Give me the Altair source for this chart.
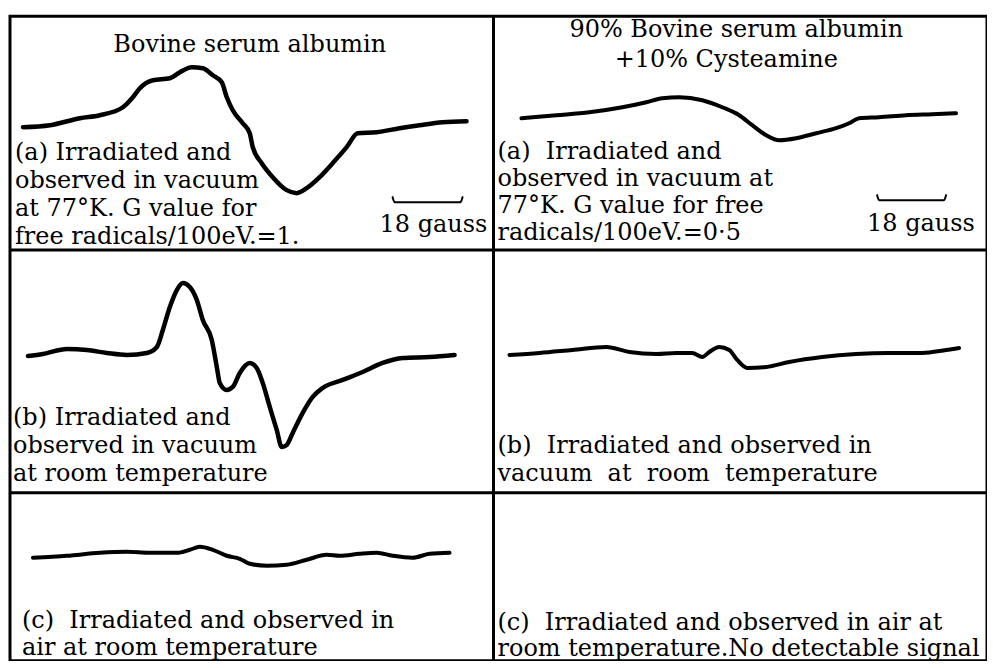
import altair as alt
import pandas as pd

FONT = "DejaVu Serif"
FS = 24

# ---- ESR traces (field position, signal position; picture units) ----
a1_field = [23, 50, 80, 100, 123, 133, 140, 153, 170, 180, 192, 203, 213, 222, 227, 233, 243, 250, 253, 262,
            273, 287, 297, 307, 320, 333, 347, 358, 377, 400, 420, 443, 467]
a1_signal = [127, 125, 118, 115, 107, 97, 88, 80, 78, 72, 67, 68, 75, 82, 97, 110, 123, 133, 147, 163,
             177, 190, 193, 188, 177, 163, 147, 133, 132, 128, 125, 122, 121]

a2_field = [522, 557, 590, 623, 647, 663, 680, 703, 723, 740, 753, 767, 780, 797, 817, 837, 850, 860, 880, 907, 933, 957]
a2_signal = [118, 115, 112, 107, 102, 98, 97, 100, 107, 115, 125, 135, 140, 138, 133, 128, 123, 118, 117, 115, 114, 113]

b1_field = [28, 43, 67, 87, 107, 127, 147, 157, 163, 170, 177, 183, 190, 197, 203, 212, 217, 220, 227, 233,
            240, 250, 257, 263, 270, 277, 282, 287, 293, 303, 313, 323, 343, 363, 383, 403, 430, 455]
b1_signal = [356, 354, 349, 350, 353, 355, 353, 347, 330, 307, 290, 283, 287, 300, 320, 340, 367, 383, 390, 387,
             373, 363, 368, 383, 407, 430, 447, 445, 433, 413, 397, 388, 380, 372, 363, 358, 357, 355]

b2_field = [510, 540, 573, 607, 630, 657, 677, 693, 703, 710, 720, 730, 738, 748, 767, 790, 823, 857, 890, 923, 947, 960]
b2_signal = [355, 353, 350, 347, 352, 354, 353, 353, 357, 352, 347, 350, 360, 368, 367, 362, 357, 354, 353, 353, 350, 348]

c1_field = [33, 67, 100, 127, 150, 177, 190, 200, 213, 227, 240, 250, 267, 287, 307, 327, 340, 360, 377, 393, 413, 430, 450]
c1_signal = [558, 556, 553, 552, 553, 553, 550, 547, 550, 556, 559, 564, 566, 565, 560, 555, 556, 554, 553, 556, 558, 554, 553]

# scale bars (18 gauss)
bar1_field = [393, 395, 461, 463]
bar1_signal = [197, 202, 202, 197]
bar2_field = [878, 880, 945, 947]
bar2_signal = [195, 200, 200, 195]

# ---- texts ----
NB = "\u00a0"
a1_title = ["Bovine serum albumin"]
a1_lines = ["(a)" + NB + "Irradiated and", "observed in vacuum", "at 77°K. G value for", "free radicals/100eV.=1."]
a2_title = ["90% Bovine serum albumin", "+10% Cysteamine"]
a2_lines = ["(a)" + NB + NB + "Irradiated and", "observed in vacuum at", "77°K. G value for free", "radicals/100eV.=0·5"]
b1_lines = ["(b) Irradiated and", "observed in vacuum", "at room temperature"]
b2_lines = ["(b)" + NB + NB + "Irradiated and observed in", "vacuum" + NB + " at" + NB + " room" + NB + " temperature"]
c1_lines = ["(c)" + NB + NB + "Irradiated and observed in", "air at room temperature"]
c2_lines = ["(c)" + NB + NB + "Irradiated and observed in air at", "room temperature.No detectable signal"]
gauss_label = "18 gauss"

# ---- layout (panel grid edges) ----
COLS = [10, 494, 988]
ROWS = [16, 250, 493, 661]

XS = alt.Scale(domain=[COLS[0], COLS[-1]], nice=False, zero=False)
YS = alt.Scale(domain=[ROWS[0], ROWS[-1]], nice=False, zero=False, reverse=True)


def line_layer(fx, sy, width):
    df = pd.DataFrame({"field": fx, "signal": sy})
    return alt.Chart(df).mark_line(color="black", strokeWidth=width, interpolate="monotone",
                                   strokeCap="round", strokeJoin="round").encode(
        x=alt.X("field:Q", scale=XS, axis=None),
        y=alt.Y("signal:Q", scale=YS, axis=None))


def text_layer(labels, xpos, ypos, align="left"):
    df = pd.DataFrame({"label": labels, "px": xpos, "py": ypos})
    return alt.Chart(df).mark_text(font=FONT, fontSize=FS, align=align, baseline="alphabetic",
                                   color="black").encode(
        x=alt.X("px:Q", scale=XS, axis=None),
        y=alt.Y("py:Q", scale=YS, axis=None),
        text="label:N")


# grid dividers built from the layout edges
vdiv = pd.DataFrame({"x": [COLS[1]], "y": [ROWS[0]], "y2": [ROWS[-1]]})
hdiv = pd.DataFrame({"y": ROWS[1:-1], "x": [COLS[0]] * 2, "x2": [COLS[-1]] * 2})
vrule = alt.Chart(vdiv).mark_rule(color="black", strokeWidth=3).encode(
    x=alt.X("x:Q", scale=XS, axis=None), y=alt.Y("y:Q", scale=YS, axis=None), y2="y2:Q")
hrule = alt.Chart(hdiv).mark_rule(color="black", strokeWidth=3).encode(
    y=alt.Y("y:Q", scale=YS, axis=None), x=alt.X("x:Q", scale=XS, axis=None), x2="x2:Q")

layers = [
    vrule, hrule,
    line_layer(a1_field, a1_signal, 4.5),
    line_layer(bar1_field, bar1_signal, 2),
    line_layer(a2_field, a2_signal, 4),
    line_layer(bar2_field, bar2_signal, 2),
    line_layer(b1_field, b1_signal, 4.5),
    line_layer(b2_field, b2_signal, 4),
    line_layer(c1_field, c1_signal, 4),
    text_layer(a1_title, [250], [52], "center"),
    text_layer(a1_lines, [15] * 4, [160, 188, 216, 244]),
    text_layer([gauss_label], [380], [232]),
    text_layer(a2_title, [737, 727], [37, 67], "center"),
    text_layer(a2_lines, [498] * 4, [159, 186, 213, 240]),
    text_layer([gauss_label], [868], [231]),
    text_layer(b1_lines, [13] * 3, [425, 453, 481]),
    text_layer(b2_lines, [498] * 2, [453, 481]),
    text_layer(c1_lines, [22] * 2, [628, 655]),
    text_layer(c2_lines, [498] * 2, [630, 656]),
]

chart = alt.layer(*layers).properties(
    width=COLS[-1] - COLS[0],
    height=ROWS[-1] - ROWS[0],
    padding={"left": 2, "top": 8, "right": 0, "bottom": 0},
    autosize=alt.AutoSizeParams(type="none"),
    background="white",
).configure_view(
    stroke="black", strokeWidth=3
)

chart.save("out.html", embed_options={"renderer": "svg", "actions": False})
